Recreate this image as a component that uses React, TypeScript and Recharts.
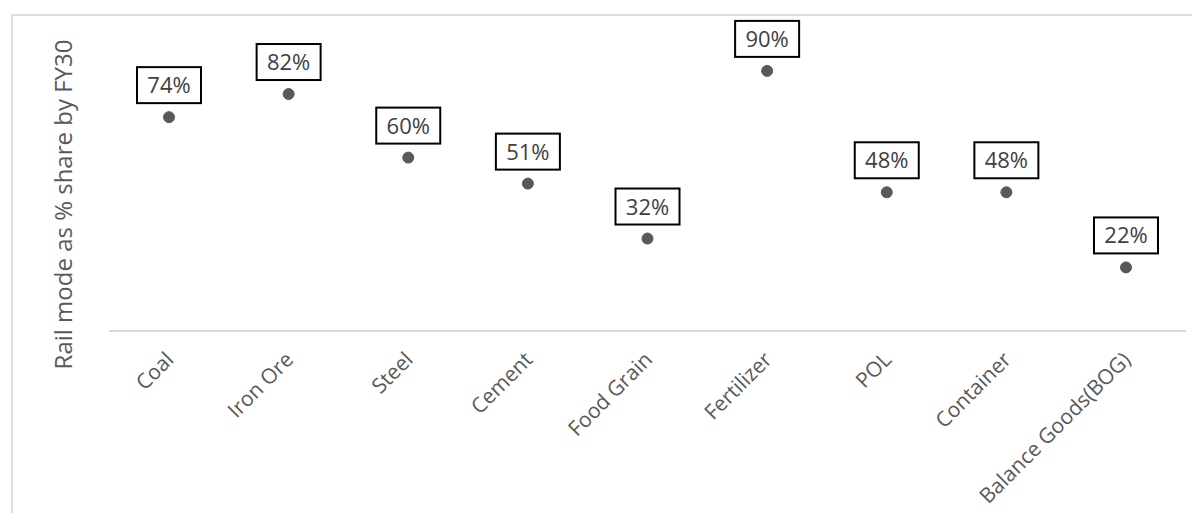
import type { JSX } from 'react';
import { LineChart, Line, XAxis, YAxis, LabelList, Label } from 'recharts';

const categories = [
  'Coal',
  'Iron Ore',
  'Steel',
  'Cement',
  'Food Grain',
  'Fertilizer',
  'POL',
  'Container',
  'Balance Goods(BOG)',
];
const railShare = [74, 82, 60, 51, 32, 90, 48, 48, 22];

const data = categories.map((name, i) => ({ name, share: railShare[i] }));

const FONT = '"Open Sans", "Noto Sans", sans-serif';

function ShareBox(props: any): JSX.Element {
  const { x, y, value } = props;
  const w = 64;
  const h = 36;
  return (
    <g>
      <rect
        x={x - w / 2}
        y={y - 50}
        width={w}
        height={h}
        fill="#ffffff"
        stroke="#000000"
        strokeWidth={2}
      />
      <text
        x={x}
        y={y - 24}
        textAnchor="middle"
        fontSize={22}
        fontFamily={FONT}
        fill="#404040"
      >
        {value}%
      </text>
    </g>
  );
}

function CategoryTick(props: any): JSX.Element {
  const { x, y, payload } = props;
  return (
    <g transform={`translate(${x + 6},${y + 22})`}>
      <text
        x={0}
        y={0}
        textAnchor="end"
        transform="rotate(-45)"
        fontSize={21}
        fontFamily={FONT}
        fill="#595959"
      >
        {payload.value}
      </text>
    </g>
  );
}

export default function App(): JSX.Element {
  return (
    <div
      style={{
        position: 'relative',
        margin: -8,
        width: 1200,
        height: 521,
        background: '#ffffff',
        overflow: 'hidden',
      }}
    >
      <div
        style={{
          position: 'absolute',
          left: 11,
          top: 14,
          width: 1200,
          height: 521,
          borderTop: '2px solid #dedede',
          borderLeft: '2px solid #dedede',
        }}
      />
      <div style={{ position: 'absolute', left: 0, top: 0 }}>
        <LineChart
          width={1200}
          height={521}
          data={data}
          margin={{ top: 42, right: 14, bottom: 0, left: 0 }}
        >
          <XAxis
            dataKey="name"
            height={190}
            padding={{ left: 60, right: 60 }}
            axisLine={{ stroke: '#d9d9d9', strokeWidth: 2 }}
            tickLine={false}
            tick={<CategoryTick />}
            interval={0}
          />
          <YAxis
            domain={[0, 100]}
            width={109}
            axisLine={false}
            tickLine={false}
            tick={false}
          >
            <Label
              content={(p: any) => {
                const vb = p.viewBox;
                const cx = vb.x + 72;
                const cy = vb.y + vb.height / 2 + 18;
                return (
                  <text
                    x={cx}
                    y={cy}
                    transform={`rotate(-90, ${cx}, ${cy})`}
                    textAnchor="middle"
                    fontSize={24}
                    fontFamily={FONT}
                    fill="#595959"
                  >
                    Rail mode as % share by FY30
                  </text>
                );
              }}
            />
          </YAxis>
          <Line
            dataKey="share"
            stroke="none"
            isAnimationActive={false}
            dot={{ r: 5.5, fill: '#595959', stroke: '#595959', strokeWidth: 1 }}
            activeDot={false}
          >
            <LabelList dataKey="share" content={<ShareBox />} />
          </Line>
        </LineChart>
      </div>
    </div>
  );
}
